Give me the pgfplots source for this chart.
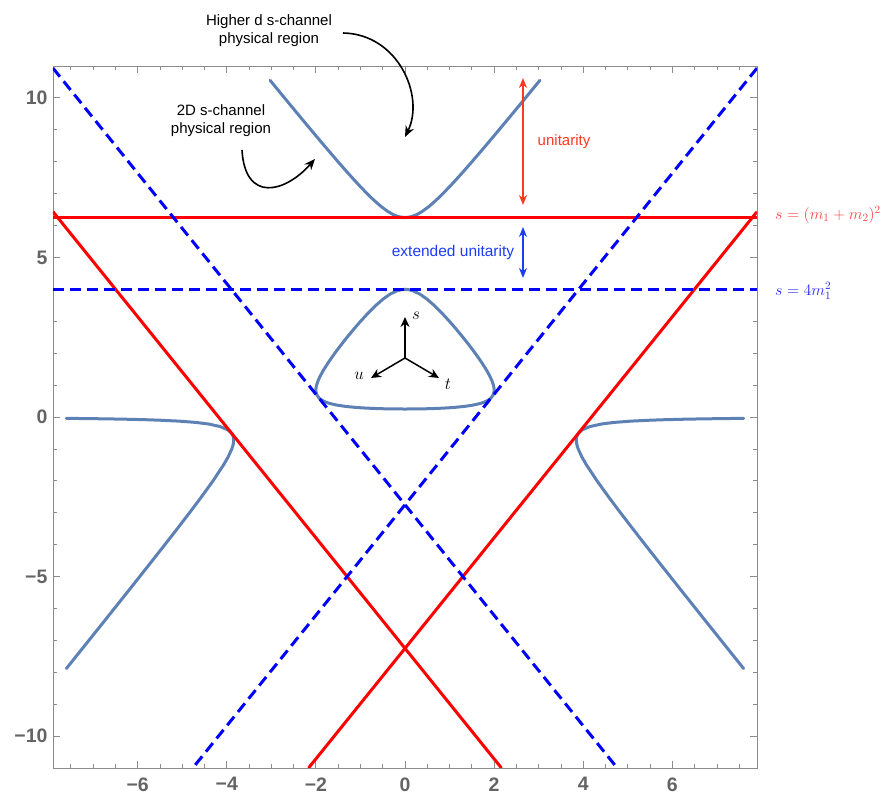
\RequirePackage{fix-cm}
\documentclass[border=0pt]{standalone}
\usepackage{fontspec}
\setmainfont{Liberation Sans}
\usepackage{pgfplots}
\pgfplotsset{compat=1.18}
\usetikzlibrary{arrows.meta}

\definecolor{curveblue}{RGB}{94,129,181}
\definecolor{ticklab}{RGB}{100,100,100}
\definecolor{framegray}{RGB}{140,140,140}
\definecolor{unitred}{RGB}{255,55,35}
\definecolor{extblue}{RGB}{30,60,245}
\definecolor{labred}{RGB}{255,70,70}
\definecolor{labblue}{RGB}{40,40,235}

\begin{document}
\begin{tikzpicture}
\useasboundingbox (-53pt,-26pt) rectangle (828pt,768pt);
\begin{axis}[
  width=704pt, height=702pt, scale only axis,
  xmin=-7.9, xmax=7.9, ymin=-11, ymax=11,
  axis line style={framegray, line width=0.9pt},
  xtick={-6,-4,-2,0,2,4,6},
  xticklabels={−6,−4,−2,0,2,4,6},
  minor xtick={-7.5,-7,...,7.5},
  ytick={-10,-5,0,5,10},
  yticklabels={−10,−5,0,5,10},
  minor ytick={-11,-10,...,11},
  major tick length=7pt, minor tick length=4pt,
  tick style={framegray, line width=0.8pt},
  tick label style={font=\fontsize{19.5}{20}\selectfont\bfseries, text=ticklab},
  xticklabel style={yshift=-6pt},
  yticklabel style={xshift=-2pt},
  curve/.style={curveblue, line width=3pt, line join=round, line cap=round},
]
% boundary stu = const: upper branch
\addplot[curve] coordinates {
(-3.0275,10.55)(-2.7042,10.0)(-2.4087,9.5)(-2.1109,9.0)(-1.8099,8.5)(-1.5035,8.0)
(-1.2517,7.6)(-1.0562,7.3)(-0.8504,7.0)(-0.7032,6.8)(-0.5402,6.6)(-0.3962,6.45)
(-0.2743,6.35)(-0.1919,6.3)(-0.1206,6.27)(0,6.25)
(0.1206,6.27)(0.1919,6.3)(0.2743,6.35)(0.3962,6.45)(0.5402,6.6)(0.7032,6.8)
(0.8504,7.0)(1.0562,7.3)(1.2517,7.6)(1.5035,8.0)(1.8099,8.5)(2.1109,9.0)
(2.4087,9.5)(2.7042,10.0)(3.0275,10.55)
};
% closed branch
\addplot[curve] coordinates {
(0,0.25)(0.2723,0.2525)(0.3831,0.255)(0.5359,0.26)(0.7421,0.27)(0.9524,0.285)
(1.1059,0.3)(1.3250,0.33)(1.5191,0.37)(1.6781,0.42)(1.7661,0.46)(1.8314,0.5)
(1.8909,0.55)(1.9327,0.6)(1.9811,0.7)(1.9992,0.8)(1.9982,0.9)(1.9843,1.0)
(1.9472,1.15)(1.8969,1.3)(1.8162,1.5)(1.7008,1.75)(1.5745,2.0)(1.4402,2.25)
(1.2990,2.5)(1.1514,2.75)(0.9965,3.0)(0.8321,3.25)(0.6524,3.5)(0.4876,3.7)
(0.3350,3.85)(0.1895,3.95)(0.0841,3.99)(0,4)
(-0.0841,3.99)(-0.1895,3.95)(-0.3350,3.85)(-0.4876,3.7)(-0.6524,3.5)(-0.8321,3.25)
(-0.9965,3.0)(-1.1514,2.75)(-1.2990,2.5)(-1.4402,2.25)(-1.5745,2.0)(-1.7008,1.75)
(-1.8162,1.5)(-1.8969,1.3)(-1.9472,1.15)(-1.9843,1.0)(-1.9982,0.9)(-1.9992,0.8)
(-1.9811,0.7)(-1.9327,0.6)(-1.8909,0.55)(-1.8314,0.5)(-1.7661,0.46)(-1.6781,0.42)
(-1.5191,0.37)(-1.3250,0.33)(-1.1059,0.3)(-0.9524,0.285)(-0.7421,0.27)(-0.5359,0.26)
(-0.3831,0.255)(-0.2723,0.2525)(0,0.25)
};
% right branch
\addplot[curve] coordinates {
(7.6019,-0.043)(7.4594,-0.045)(7.1435,-0.05)(6.6424,-0.06)(6.2607,-0.07)(5.8307,-0.085)
(5.5113,-0.1)(5.0669,-0.13)(4.6954,-0.17)(4.4095,-0.22)(4.1487,-0.3)(3.9811,-0.4)
(3.8971,-0.5)(3.8574,-0.6)(3.8441,-0.7)(3.8541,-0.85)(3.8864,-1.0)(3.9686,-1.25)
(4.0714,-1.5)(4.3084,-2.0)(4.5666,-2.5)(4.8355,-3.0)(5.1104,-3.5)(5.3890,-4.0)
(5.6701,-4.5)(5.9530,-5.0)(6.2370,-5.5)(6.5219,-6.0)(6.8075,-6.5)(7.0935,-7.0)
(7.3801,-7.5)(7.6,-7.884)
};
% left branch
\addplot[curve] coordinates {
(-7.6019,-0.043)(-7.4594,-0.045)(-7.1435,-0.05)(-6.6424,-0.06)(-6.2607,-0.07)(-5.8307,-0.085)
(-5.5113,-0.1)(-5.0669,-0.13)(-4.6954,-0.17)(-4.4095,-0.22)(-4.1487,-0.3)(-3.9811,-0.4)
(-3.8971,-0.5)(-3.8574,-0.6)(-3.8441,-0.7)(-3.8541,-0.85)(-3.8864,-1.0)(-3.9686,-1.25)
(-4.0714,-1.5)(-4.3084,-2.0)(-4.5666,-2.5)(-4.8355,-3.0)(-5.1104,-3.5)(-5.3890,-4.0)
(-5.6701,-4.5)(-5.9530,-5.0)(-6.2370,-5.5)(-6.5219,-6.0)(-6.8075,-6.5)(-7.0935,-7.0)
(-7.3801,-7.5)(-7.6,-7.884)
};
% thresholds (m1+m2)^2 in s, t, u
\addplot[red, line width=3pt] coordinates {(-7.9,6.25)(7.9,6.25)};
\addplot[red, line width=3pt] coordinates {(-7.9,6.433)(2.165,-11)};
\addplot[red, line width=3pt] coordinates {(7.9,6.433)(-2.165,-11)};
% thresholds 4 m1^2 in s, t, u
\addplot[blue, line width=3pt, dash pattern=on 11pt off 6pt] coordinates {(-7.9,4)(7.9,4)};
\addplot[blue, line width=3pt, dash pattern=on 11pt off 6pt] coordinates {(-7.9,10.933)(4.763,-11)};
\addplot[blue, line width=3pt, dash pattern=on 11pt off 6pt] coordinates {(7.9,10.933)(-4.763,-11)};
\end{axis}

% annotations
\node[font=\fontsize{15}{18}\selectfont, align=center] at (216pt,737pt) {Higher d s-channel\\physical region};
\draw[line width=1.6pt, -{Stealth[length=11pt,width=9pt]}] (290pt,735pt) .. controls (345pt,734pt) and (372pt,672pt) .. (352pt,631pt);
\node[font=\fontsize{15}{18}\selectfont, align=center] at (168pt,647pt) {2D s-channel\\physical region};
\draw[line width=1.6pt, -{Stealth[length=11pt,width=9pt]}] (189pt,618pt) .. controls (192pt,565pt) and (232pt,575pt) .. (262pt,609pt);

\draw[unitred, line width=1.6pt, {Stealth[length=10pt,width=8pt]}-{Stealth[length=10pt,width=8pt]}] (470pt,690pt) -- (470pt,563pt);
\node[unitred, font=\fontsize{15}{18}\selectfont] at (511pt,626pt) {unitarity};
\draw[extblue, line width=1.6pt, {Stealth[length=10pt,width=8pt]}-{Stealth[length=10pt,width=8pt]}] (470pt,541pt) -- (470pt,490pt);
\node[extblue, font=\fontsize{15.5}{18}\selectfont] at (400pt,515pt) {extended unitarity};

\node[labred, anchor=west, inner sep=0pt, font=\fontsize{16}{16}\selectfont] at (722pt,553pt) {$s=(m_1+m_2)^2$};
\node[labblue, anchor=west, inner sep=0pt, font=\fontsize{16}{16}\selectfont] at (722pt,477pt) {$s=4m_1^2$};

% s, t, u directions
\draw[line width=1.5pt, -{Stealth[length=10pt,width=9pt]}] (352pt,410pt) -- (352pt,451pt);
\draw[line width=1.5pt, -{Stealth[length=10pt,width=9pt]}] (352pt,410pt) -- (318pt,390pt);
\draw[line width=1.5pt, -{Stealth[length=10pt,width=9pt]}] (352pt,410pt) -- (386pt,390pt);
\node[font=\fontsize{17}{17}\selectfont] at (363pt,452pt) {$s$};
\node[font=\fontsize{17}{17}\selectfont] at (306pt,392pt) {$u$};
\node[font=\fontsize{17}{17}\selectfont] at (395pt,384pt) {$t$};
\end{tikzpicture}
\end{document}
